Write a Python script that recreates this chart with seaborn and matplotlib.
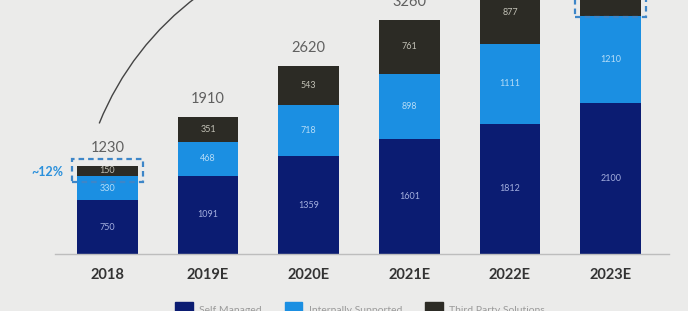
import matplotlib
matplotlib.use("Agg")
import matplotlib.pyplot as plt
import matplotlib.patches as mpatches
import pandas as pd
import seaborn as sns

years = ["2018", "2019E", "2020E", "2021E", "2022E", "2023E"]
self_managed = [750, 1091, 1359, 1601, 1812, 2100]
internally_supported = [330, 468, 718, 898, 1111, 1210]
third_party = [150, 351, 543, 761, 877, 1040]  # 2023E top is cut off in the source
totals = [1230, 1910, 2620, 3260, 3800, 4350]
series_names = ["Self Managed", "Internally Supported", "Third Party Solutions"]

NAVY = "#0b1c72"
BLUE = "#1b8fe2"
DARK = "#2c2b25"
BG = "#ebebea"

df = pd.DataFrame({
    "year": years,
    "self": self_managed,
    "internal": internally_supported,
    "third": third_party,
})
df["cum_internal"] = df["self"] + df["internal"]
df["cum_third"] = df["cum_internal"] + df["third"]

sns.set_style("white")
plt.rcParams["font.family"] = ["Lato", "DejaVu Sans"]

fig = plt.figure(figsize=(6.88, 3.11), dpi=100, facecolor=BG)
ax = fig.add_axes([55 / 688, 57 / 311, 614 / 688, 254 / 311])
ax.set_facecolor(BG)

# stacked bars: draw cumulative heights tallest first
bar_kw = dict(width=0.6, saturation=1, order=years, ax=ax, linewidth=0, edgecolor="none")
sns.barplot(data=df, x="year", y="cum_third", color=DARK, **bar_kw)
sns.barplot(data=df, x="year", y="cum_internal", color=BLUE, **bar_kw)
sns.barplot(data=df, x="year", y="self", color=NAVY, **bar_kw)

ax.set_ylim(0, 3532)
ax.set_xlim(-0.52, 5.58)

# segment labels
for i in range(len(years)):
    s, m, t = self_managed[i], internally_supported[i], third_party[i]
    ax.text(i, s / 2, str(s), ha="center", va="center", fontsize=6.5, color="#a3aede")
    ax.text(i, s + m / 2, str(m), ha="center", va="center", fontsize=6.5, color="#b5dcf7")
    ax.text(i, s + m + t / 2, str(t), ha="center", va="center", fontsize=6.5,
            color="#c2c1b6", clip_on=True)
    ax.text(i, totals[i] + 250, str(totals[i]), ha="center", va="center",
            fontsize=10.5, color="#606060", clip_on=False)

# dashed highlight boxes around third party segment (2018 and 2023E)
for i, pad_low in [(0, 80), (5, 15)]:
    bottom = self_managed[i] + internally_supported[i] - pad_low
    top = totals[i] + 90
    rect = mpatches.Rectangle((i - 0.355, bottom), 0.71, top - bottom, fill=False,
                              edgecolor="#3d86c8", linewidth=1.6,
                              linestyle=(0, (2.5, 1.8)), zorder=5, clip_on=False)
    ax.add_patch(rect)

ax.text(-0.44, self_managed[0] + internally_supported[0] + third_party[0] / 2 - 20,
        "~12%", ha="right", va="center", fontsize=9, fontweight="bold",
        color="#2a90dc")

# growth arc (circle in inch space so it stays round)
arc = mpatches.Arc((3.746, 0.763), 5.94, 5.94, theta1=95, theta2=158,
                   transform=fig.dpi_scale_trans, color="#444444", linewidth=1.0)
fig.add_artist(arc)

# axes styling
sns.despine(ax=ax, left=True, top=True, right=True)
ax.spines["bottom"].set_color("#bdbdbd")
ax.spines["bottom"].set_linewidth(1)
ax.set_yticks([])
ax.set_xlabel("")
ax.set_ylabel("")
ax.tick_params(axis="x", length=0, pad=10)
for lbl in ax.get_xticklabels():
    lbl.set_fontsize(10.5)
    lbl.set_fontweight("bold")
    lbl.set_color("#333333")

handles = [mpatches.Patch(color=c) for c in [NAVY, BLUE, DARK]]
fig.legend(handles, series_names, loc="upper center",
           bbox_to_anchor=(360 / 688, 1 - 293 / 311), ncol=3, frameon=False,
           fontsize=7.5, handlelength=1.7, handleheight=1.7, handletextpad=0.6,
           columnspacing=2.2, labelcolor="#9a9a9a")

fig.savefig("out.png", dpi=100, facecolor=BG)
